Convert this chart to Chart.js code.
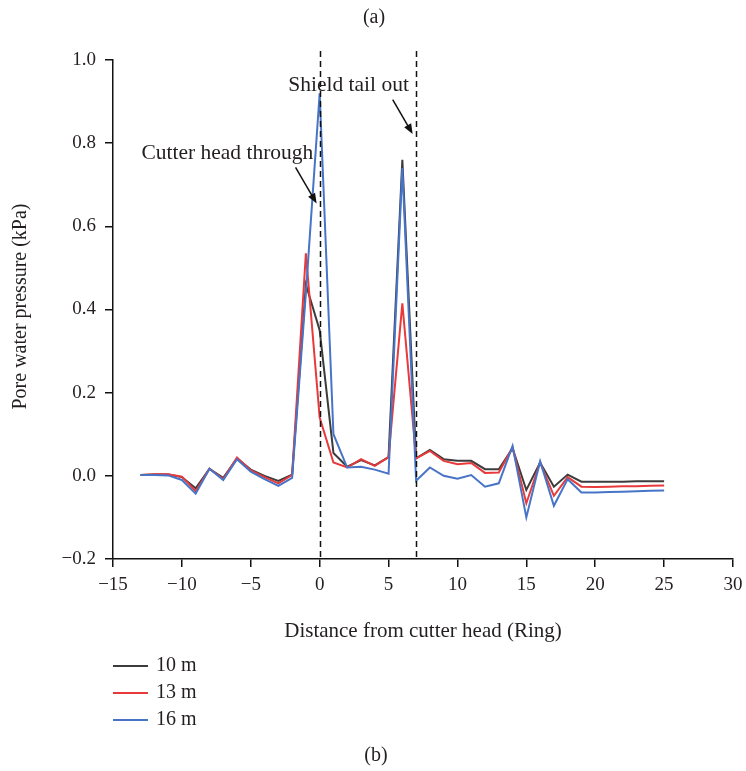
<!DOCTYPE html>
<html><head><meta charset="utf-8">
<script src="https://cdn.jsdelivr.net/npm/chart.js@4/dist/chart.umd.min.js"></script>
<style>html,body{margin:0;padding:0;background:#fff;}#wrap{width:746px;height:771px;position:relative;}</style>
</head><body><div id="wrap"><canvas id="c" width="746" height="771"></canvas></div>
<script>
const rings = [-13,-12,-11,-10,-9,-8,-7,-6,-5,-4,-3,-2,-1,0,1,2,3,4,5,6,7,8,9,10,11,12,13,14,15,16,17,18,19,20,21,22,23,24,25];
const p10m = [0.002,0.003,0.003,-0.003,-0.030,0.017,-0.005,0.042,0.015,0.000,-0.012,0.003,0.460,0.350,0.055,0.022,0.038,0.025,0.045,0.760,0.042,0.062,0.040,0.036,0.036,0.016,0.016,0.066,-0.034,0.032,-0.026,0.003,-0.014,-0.014,-0.014,-0.014,-0.013,-0.013,-0.013];
const p13m = [0.002,0.004,0.004,-0.002,-0.037,0.017,-0.008,0.044,0.013,-0.003,-0.018,0.002,0.535,0.140,0.032,0.020,0.040,0.024,0.045,0.415,0.042,0.060,0.036,0.028,0.031,0.007,0.008,0.068,-0.066,0.032,-0.048,-0.003,-0.026,-0.027,-0.026,-0.025,-0.025,-0.024,-0.023];
const p16m = [0.002,0.002,0.001,-0.010,-0.043,0.017,-0.010,0.040,0.010,-0.008,-0.024,-0.005,0.440,0.920,0.100,0.020,0.022,0.015,0.005,0.740,-0.012,0.020,0.000,-0.007,0.002,-0.026,-0.018,0.072,-0.100,0.035,-0.072,-0.008,-0.040,-0.040,-0.039,-0.038,-0.037,-0.036,-0.035];
const seriesLabels = ['10 m','13 m','16 m'];
const seriesColors = ['#3c3c3c','#e8393b','#4774c6'];
const xTickValues = [-15,-10,-5,0,5,10,15,20,25,30];
const yTickValues = [-0.2,0,0.2,0.4,0.6,0.8,1.0];
const markerRings = [0,7];
const annotations = [
  {text:'Shield tail out', x:2.1, y:0.94, from:[5.3,0.905], to:[6.75,0.822]},
  {text:'Cutter head through', x:-6.7, y:0.775, from:[-1.75,0.742], to:[-0.22,0.655]}
];
const xTitle = 'Distance from cutter head (Ring)';
const yTitle = 'Pore water pressure (kPa)';
const topLabel = '(a)';
const bottomLabel = '(b)';

const FONT = '"Liberation Serif", "DejaVu Serif", serif';
const INK = '#231f20';
const minus = s => s.replace('-', '\u2212');

const seriesData = [p10m, p13m, p16m];
const datasets = seriesData.map((arr, i) => ({
  label: seriesLabels[i],
  data: rings.map((r, j) => ({x: r, y: arr[j]})),
  borderColor: seriesColors[i],
  backgroundColor: seriesColors[i],
  borderWidth: 2,
  pointRadius: 0,
  tension: 0,
  fill: false
})).reverse();

const decor = {
  id: 'decor',
  afterDatasetsDraw(chart) {
    const ctx = chart.ctx, xs = chart.scales.x, ys = chart.scales.y, ca = chart.chartArea;
    ctx.save();
    ctx.strokeStyle = '#111'; ctx.lineWidth = 1.5; ctx.setLineDash([6,4]);
    markerRings.forEach(r => {
      const px = Math.round(xs.getPixelForValue(r)) + 0.5;
      ctx.beginPath(); ctx.moveTo(px, ca.top - 9); ctx.lineTo(px, ca.bottom); ctx.stroke();
    });
    ctx.setLineDash([]);
    ctx.fillStyle = INK; ctx.font = '21.5px ' + FONT; ctx.textAlign = 'center'; ctx.textBaseline = 'middle';
    annotations.forEach(a => {
      ctx.fillStyle = INK;
      ctx.fillText(a.text, xs.getPixelForValue(a.x), ys.getPixelForValue(a.y));
      const x1 = xs.getPixelForValue(a.from[0]), y1 = ys.getPixelForValue(a.from[1]);
      const x2 = xs.getPixelForValue(a.to[0]), y2 = ys.getPixelForValue(a.to[1]);
      const ang = Math.atan2(y2 - y1, x2 - x1), hl = 10, hw = 4;
      ctx.strokeStyle = '#111'; ctx.lineWidth = 1.5;
      ctx.beginPath(); ctx.moveTo(x1, y1);
      ctx.lineTo(x2 - hl * Math.cos(ang) * 0.8, y2 - hl * Math.sin(ang) * 0.8); ctx.stroke();
      ctx.fillStyle = '#111';
      ctx.beginPath(); ctx.moveTo(x2, y2);
      ctx.lineTo(x2 - hl * Math.cos(ang) + hw * Math.sin(ang), y2 - hl * Math.sin(ang) - hw * Math.cos(ang));
      ctx.lineTo(x2 - hl * Math.cos(ang) - hw * Math.sin(ang), y2 - hl * Math.sin(ang) + hw * Math.cos(ang));
      ctx.closePath(); ctx.fill();
    });
    ctx.fillStyle = INK;
    ctx.font = '21px ' + FONT;
    ctx.fillText(xTitle, (ca.left + ca.right) / 2, ca.bottom + 72);
    ctx.font = '20px ' + FONT;
    ctx.save(); ctx.translate(21, (ca.top + ca.bottom) / 2 - 3); ctx.rotate(-Math.PI / 2);
    ctx.fillText(yTitle, 0, 0); ctx.restore();
    ctx.fillText(topLabel, 374, 18);
    ctx.fillText(bottomLabel, 376, 756);
    seriesLabels.forEach((lab, i) => {
      const y = 666 + i * 27;
      ctx.strokeStyle = seriesColors[i]; ctx.lineWidth = 2;
      ctx.beginPath(); ctx.moveTo(113, y); ctx.lineTo(148, y); ctx.stroke();
      ctx.fillStyle = INK; ctx.textAlign = 'left';
      ctx.fillText(lab, 156, y);
    });
    ctx.restore();
  }
};

new Chart(document.getElementById('c'), {
  type: 'line',
  data: {datasets},
  options: {
    responsive: false, animation: false, devicePixelRatio: 1,
    layout: {padding: {left: 51, top: 60, right: 13, bottom: 172}},
    plugins: {legend: {display: false}, tooltip: {enabled: false}},
    scales: {
      x: {
        type: 'linear', min: -15, max: 30,
        afterBuildTicks: s => { s.ticks = xTickValues.map(v => ({value: v})); },
        afterFit: s => { s.height = 40; s.paddingLeft = 0; s.paddingRight = 0; },
        ticks: {color: INK, font: {family: FONT, size: 19}, padding: 7, maxRotation: 0,
          callback: v => minus(String(v))},
        grid: {display: true, drawOnChartArea: false, drawTicks: true, tickLength: 8, color: '#111', lineWidth: 1.5},
        border: {display: true, color: '#111', width: 1.5}
      },
      y: {
        type: 'linear', min: -0.2, max: 1.0,
        afterBuildTicks: s => { s.ticks = yTickValues.map(v => ({value: v})); },
        afterFit: s => { s.width = 62; s.paddingTop = 0; s.paddingBottom = 0; },
        ticks: {color: INK, font: {family: FONT, size: 19}, padding: 9,
          callback: v => minus(Number(v).toFixed(1))},
        grid: {display: true, drawOnChartArea: false, drawTicks: true, tickLength: 8, color: '#111', lineWidth: 1.5},
        border: {display: true, color: '#111', width: 1.5}
      }
    }
  },
  plugins: [decor]
});
</script></body></html>
